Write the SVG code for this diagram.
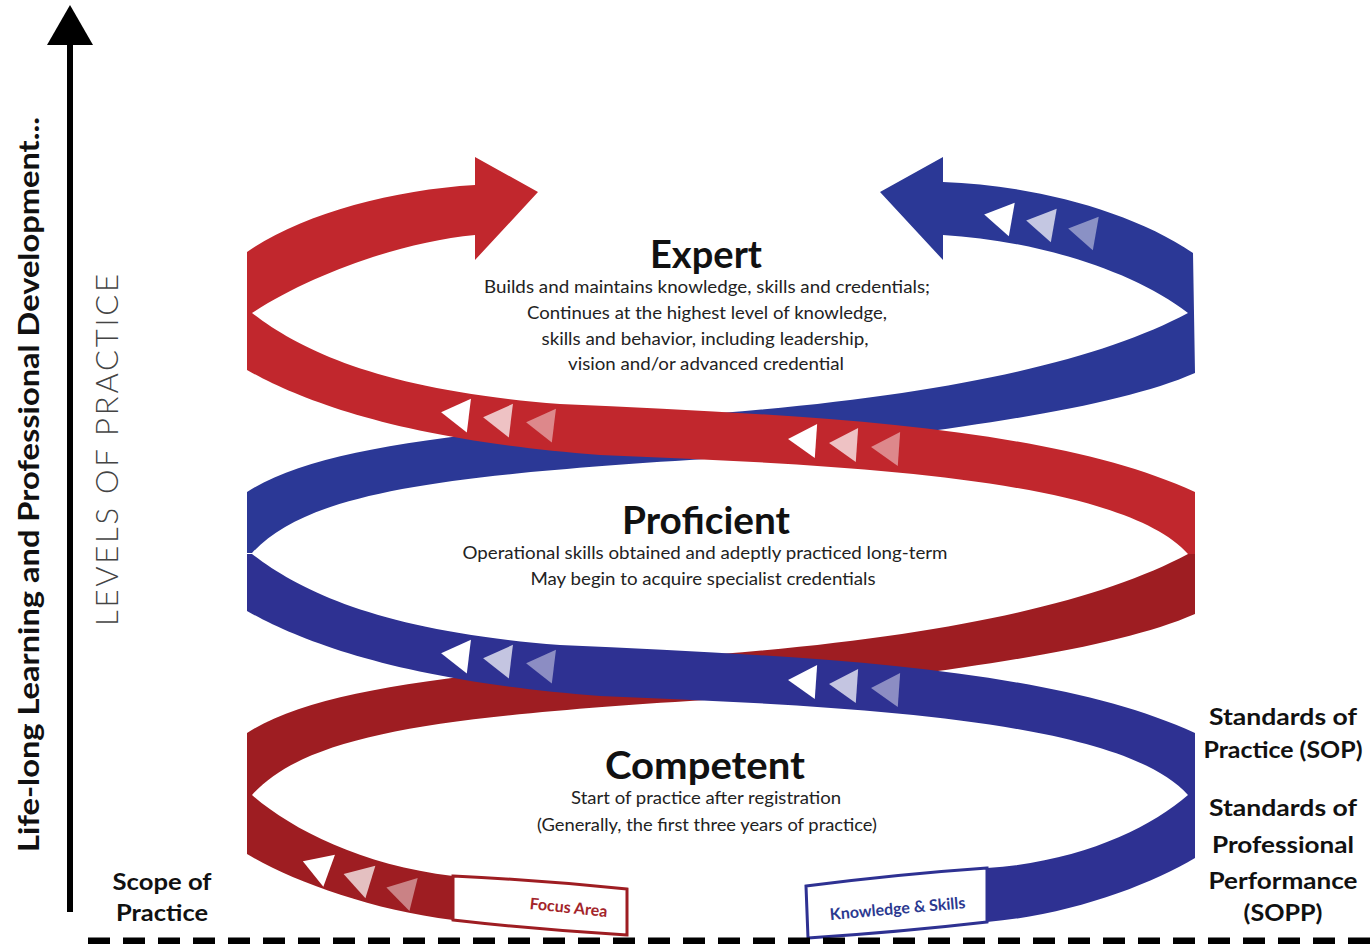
<svg xmlns="http://www.w3.org/2000/svg" width="1370" height="944" viewBox="0 0 1370 944">
<style>
.title{font-family:"Lato","Liberation Sans",sans-serif;font-weight:700;fill:#111;text-anchor:middle}
.sub{font-family:"Lato","Liberation Sans",sans-serif;font-weight:400;font-size:17px;fill:#222;text-anchor:middle}
.lab{font-family:"Lato","Liberation Sans",sans-serif;font-weight:700;font-size:22px;fill:#111;text-anchor:middle}
.red{fill:#c1272d}
.redD{fill:#9e1d22}
.blue{fill:#2b3896}
.blueD{fill:#2e3192}
</style>
<defs>
<path id="tri" d="M-14,0 L14,-17 L14,17 Z"/>
</defs>
<rect width="1370" height="944" fill="#ffffff"/>

<g id="axis">
<line x1="70" y1="40" x2="70" y2="912" stroke="#000" stroke-width="6"/>
<polygon points="70,5 93,45 47,45" fill="#000"/>
<text transform="translate(39,852) rotate(-90)" font-family="Lato,'Liberation Sans',sans-serif" font-weight="700" font-size="28" fill="#111" textLength="735" lengthAdjust="spacingAndGlyphs">Life-long Learning and Professional Development...</text>
<text transform="translate(118,626) rotate(-90)" font-family="Lato,'Liberation Sans',sans-serif" font-weight="300" font-size="31" fill="#444" textLength="352" lengthAdjust="spacing">LEVELS OF PRACTICE</text>
</g>

<g id="ribbons">
<path id="blue-back" class="blue" d="M943,182 C1030,185 1130,210 1193,253 L1195,373 C1110,410 950,430 720,458 C450,475 310,490 252,553 L247,553 L247,492 C320,445 480,430 720,413 C950,395 1100,360 1188,313 C1130,268 1030,240 943,235 L943,260 L880,192 L943,157 Z"/>
<path id="red-back" class="redD" d="M1188,554 C1100,601 950,636 720,654 C480,671 320,686 247,733 L247,854 C290,880 370,910 453,920 L453,876 C360,865 290,828 252,795 C310,731 450,716 720,699 C950,671 1110,651 1195,614 L1195,554 Z"/>
<path id="red-front" class="red" d="M475,185 C390,190 300,215 247,252 L247,370 C300,400 400,440 600,455 C850,465 1120,478 1188,554 L1195,554 L1195,492 C1050,425 800,415 560,404 C380,390 300,350 252,313 C310,275 400,242 475,235 L475,260 L538,192 L475,157 Z"/>
<path id="blue-front" class="blueD" d="M252,554 C300,591 380,631 560,645 C800,656 1050,666 1195,733 L1195,858 C1150,885 1070,915 987,922 L987,868 C1080,862 1150,828 1188,795 C1120,719 850,706 600,696 C400,681 300,641 247,611 L247,554 Z"/>
</g>

<g id="markers">
<use href="#tri" transform="translate(998,217) rotate(10)" fill="#fff"/>
<use href="#tri" transform="translate(1040,223) rotate(10)" fill="#fff" fill-opacity="0.72"/>
<use href="#tri" transform="translate(1082,231) rotate(10)" fill="#fff" fill-opacity="0.45"/>
<use href="#tri" transform="translate(455,414) rotate(7)" fill="#fff"/>
<use href="#tri" transform="translate(497,419) rotate(7)" fill="#fff" fill-opacity="0.72"/>
<use href="#tri" transform="translate(540,424) rotate(7)" fill="#fff" fill-opacity="0.45"/>
<use href="#tri" transform="translate(802,440) rotate(4)" fill="#fff"/>
<use href="#tri" transform="translate(843,444) rotate(4)" fill="#fff" fill-opacity="0.72"/>
<use href="#tri" transform="translate(885,448) rotate(4)" fill="#fff" fill-opacity="0.45"/>
<use href="#tri" transform="translate(455,655) rotate(7)" fill="#fff"/>
<use href="#tri" transform="translate(497,660) rotate(7)" fill="#fff" fill-opacity="0.72"/>
<use href="#tri" transform="translate(540,665) rotate(7)" fill="#fff" fill-opacity="0.45"/>
<use href="#tri" transform="translate(802,681) rotate(4)" fill="#fff"/>
<use href="#tri" transform="translate(843,685) rotate(4)" fill="#fff" fill-opacity="0.72"/>
<use href="#tri" transform="translate(885,689) rotate(4)" fill="#fff" fill-opacity="0.45"/>
<use href="#tri" transform="translate(316,866) rotate(20)" fill="#fff"/>
<use href="#tri" transform="translate(357,878) rotate(17)" fill="#fff" fill-opacity="0.72"/>
<use href="#tri" transform="translate(400,891) rotate(14)" fill="#fff" fill-opacity="0.45"/>
</g>

<g id="focus-area">
<path d="M453,876 Q540,880 627,889 L627,935 Q540,930 453,920 Z" fill="#fff" stroke="#9e1d22" stroke-width="3"/>
<text transform="translate(568,913) rotate(6)" font-family="Lato,'Liberation Sans',sans-serif" font-weight="700" font-size="16" fill="#a3242a" text-anchor="middle">Focus Area</text>
</g>
<g id="knowledge-skills">
<path d="M987,868 Q900,874 806,886 L808,938 Q900,932 987,922 Z" fill="#fff" stroke="#2e3192" stroke-width="3"/>
<text transform="translate(898,914) rotate(-5)" font-family="Lato,'Liberation Sans',sans-serif" font-weight="700" font-size="16" fill="#2b3990" text-anchor="middle">Knowledge &amp; Skills</text>
</g>

<g id="expert">
<text class="title" x="706" y="268" font-size="38" textLength="112" lengthAdjust="spacingAndGlyphs">Expert</text>
<text class="sub" x="707" y="293" textLength="446" lengthAdjust="spacingAndGlyphs">Builds and maintains knowledge, skills and credentials;</text>
<text class="sub" x="707" y="319" textLength="360" lengthAdjust="spacingAndGlyphs">Continues at the highest level of knowledge,</text>
<text class="sub" x="705" y="345" textLength="327" lengthAdjust="spacingAndGlyphs">skills and behavior, including leadership,</text>
<text class="sub" x="706" y="370" textLength="276" lengthAdjust="spacingAndGlyphs">vision and/or advanced credential</text>
</g>
<g id="proficient">
<text class="title" x="706" y="534" font-size="38" textLength="168" lengthAdjust="spacingAndGlyphs">Proficient</text>
<text class="sub" x="705" y="559" textLength="485" lengthAdjust="spacingAndGlyphs">Operational skills obtained and adeptly practiced long-term</text>
<text class="sub" x="703" y="585" textLength="345" lengthAdjust="spacingAndGlyphs">May begin to acquire specialist credentials</text>
</g>
<g id="competent">
<text class="title" x="705" y="779" font-size="38" textLength="200" lengthAdjust="spacingAndGlyphs">Competent</text>
<text class="sub" x="706" y="804" textLength="270" lengthAdjust="spacingAndGlyphs">Start of practice after registration</text>
<text class="sub" x="707" y="831" textLength="340" lengthAdjust="spacingAndGlyphs">(Generally, the first three years of practice)</text>
</g>

<g id="scope">
<text class="lab" x="162" y="890" textLength="99" lengthAdjust="spacingAndGlyphs">Scope of</text>
<text class="lab" x="162" y="921" textLength="92" lengthAdjust="spacingAndGlyphs">Practice</text>
</g>
<g id="sop">
<text class="lab" x="1283" y="725" textLength="148" lengthAdjust="spacingAndGlyphs">Standards of</text>
<text class="lab" x="1283" y="758" textLength="159" lengthAdjust="spacingAndGlyphs">Practice (SOP)</text>
</g>
<g id="sopp">
<text class="lab" x="1283" y="816" textLength="148" lengthAdjust="spacingAndGlyphs">Standards of</text>
<text class="lab" x="1283" y="853" textLength="142" lengthAdjust="spacingAndGlyphs">Professional</text>
<text class="lab" x="1283" y="889" textLength="149" lengthAdjust="spacingAndGlyphs">Performance</text>
<text class="lab" x="1283" y="921" textLength="79" lengthAdjust="spacingAndGlyphs">(SOPP)</text>
</g>

<g id="baseline">
<line x1="88" y1="941" x2="1370" y2="941" stroke="#000" stroke-width="7" stroke-dasharray="22 13"/>
</g>
</svg>
